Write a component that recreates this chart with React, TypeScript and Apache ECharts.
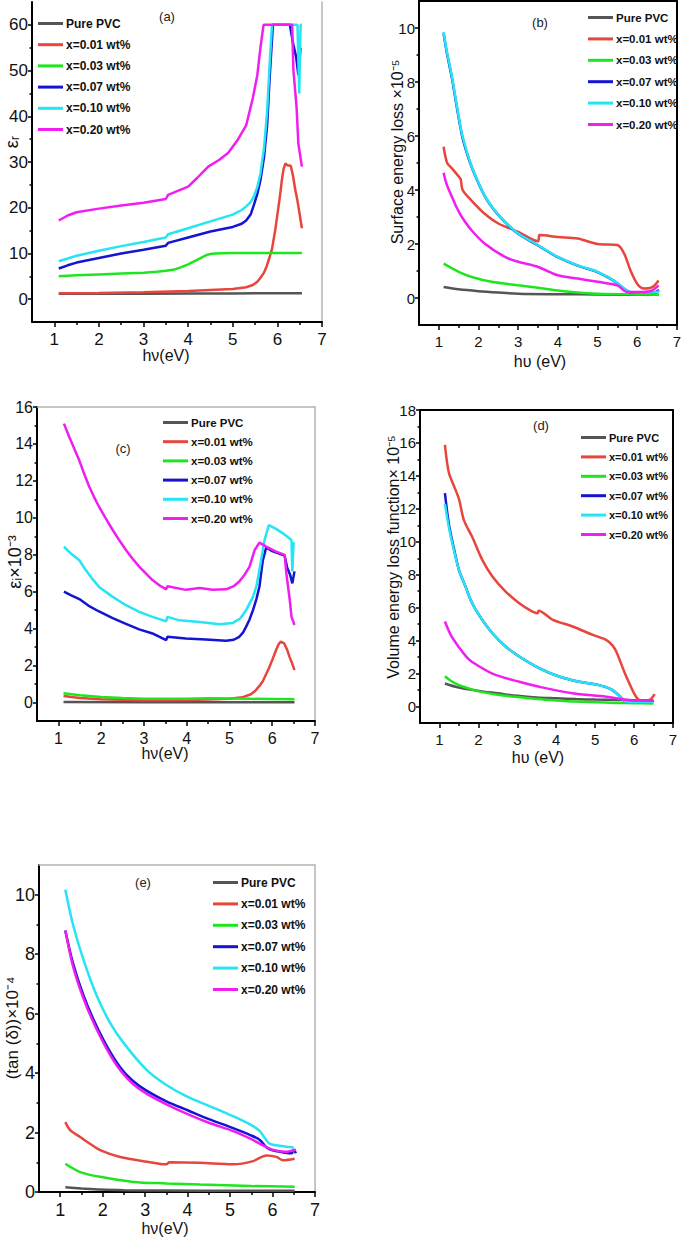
import React, { useEffect, useRef } from "react";
import * as echarts from "echarts";

// ---------- series names & colors ----------
const seriesNames = ["Pure PVC", "x=0.01 wt%", "x=0.03 wt%", "x=0.07 wt%", "x=0.10 wt%", "x=0.20 wt%"];
const seriesColors = ["#555555", "#e8453c", "#1ee61e", "#1414d2", "#26e4f4", "#f01ef0"];

// ---------- x tick values ----------
const xTickLabels = [1, 2, 3, 4, 5, 6, 7];
const xMinorTicks = [1.5, 2.5, 3.5, 4.5, 5.5, 6.5];

// ---------- (a) dielectric constant eps_r ----------
const aPure = [[1.1, 1.2], [2, 1.2], [3, 1.2], [4, 1.25], [5, 1.25], [6, 1.3], [6.55, 1.3]];
const aX001 = [[1.1, 1.3], [2, 1.35], [3, 1.5], [4, 1.8], [4.5, 2.0], [5, 2.2], [5.3, 2.6], [5.45, 3.1], [5.55, 3.8], [5.63, 4.8], [5.7, 5.8], [5.76, 7.2], [5.82, 9.0], [5.88, 11], [5.95, 15], [6.0, 18.5], [6.05, 22], [6.1, 26], [6.14, 28.5], [6.18, 29.7], [6.22, 29.3], [6.3, 29.2], [6.35, 27], [6.4, 24], [6.45, 21.5], [6.5, 18.5], [6.55, 15.5]];
const aX003 = [[1.1, 5.0], [1.5, 5.2], [2, 5.4], [2.5, 5.6], [3, 5.8], [3.3, 6.0], [3.5, 6.2], [3.7, 6.5], [3.85, 7.0], [4.0, 7.6], [4.1, 8.1], [4.2, 8.6], [4.3, 9.1], [4.4, 9.6], [4.5, 9.9], [4.6, 10.0], [5, 10.1], [6.55, 10.1]];
const aX007 = [[1.1, 6.7], [1.3, 7.4], [1.5, 8.0], [2, 9.0], [2.5, 10], [3, 10.8], [3.5, 11.7], [3.55, 12.3], [4, 13.5], [4.5, 14.8], [5, 15.8], [5.2, 16.5], [5.3, 17.2], [5.4, 18.5], [5.47, 20.5], [5.55, 23], [5.62, 26], [5.7, 31], [5.77, 38], [5.83, 49], [5.9, 60], [6.28, 60], [6.35, 56], [6.42, 53], [6.47, 49], [6.52, 55]];
const aX010 = [[1.1, 8.3], [1.3, 8.9], [1.5, 9.5], [2, 10.6], [2.5, 11.6], [3, 12.5], [3.5, 13.5], [3.55, 14.2], [4, 15.5], [4.5, 17], [5, 18.5], [5.2, 19.5], [5.3, 20.3], [5.4, 21.2], [5.47, 22.4], [5.55, 24.5], [5.62, 27.5], [5.7, 33], [5.77, 41], [5.83, 52], [5.88, 60], [6.45, 60], [6.49, 45], [6.52, 60], [6.55, 60]];
const aX020 = [[1.1, 17.2], [1.3, 18.3], [1.5, 19], [2, 19.8], [2.5, 20.5], [3, 21.1], [3.5, 21.9], [3.55, 22.8], [4, 24.6], [4.2, 26.5], [4.45, 29], [4.7, 30.5], [4.9, 32], [5.1, 34.7], [5.3, 38], [5.45, 44], [5.55, 49], [5.62, 55], [5.69, 60], [6.33, 60], [6.36, 50], [6.43, 42], [6.47, 34], [6.55, 29]];

// ---------- (b) surface energy loss x1e-5 ----------
const bPure = [[1.12, 0.41], [1.5, 0.32], [2, 0.25], [2.5, 0.2], [3, 0.16], [4, 0.14], [5, 0.13], [6, 0.12], [6.55, 0.12]];
const bX001 = [[1.12, 5.6], [1.21, 5.0], [1.33, 4.8], [1.5, 4.5], [1.55, 4.4], [1.6, 4.0], [1.83, 3.6], [2.17, 3.1], [2.5, 2.76], [3.0, 2.45], [3.5, 2.1], [3.54, 2.33], [4.0, 2.26], [4.5, 2.2], [5.0, 2.0], [5.5, 1.96], [5.67, 1.65], [5.83, 1.03], [6.0, 0.53], [6.17, 0.35], [6.38, 0.4], [6.54, 0.65]];
const bX003 = [[1.12, 1.27], [1.5, 0.97], [1.83, 0.78], [2.33, 0.6], [3.0, 0.47], [3.5, 0.38], [4.0, 0.28], [4.5, 0.2], [5.0, 0.16], [6.0, 0.13], [6.55, 0.12]];
const bX007 = [[1.12, 9.8], [1.2, 9.1], [1.33, 8.15], [1.45, 7.1], [1.58, 6.05], [1.7, 5.4], [1.83, 4.84], [2.0, 4.25], [2.17, 3.74], [2.4, 3.25], [2.67, 2.81], [3.0, 2.38], [3.5, 1.95], [4.0, 1.51], [4.5, 1.2], [5.0, 0.96], [5.33, 0.71], [5.5, 0.55], [5.67, 0.34], [5.83, 0.21], [6.42, 0.2], [6.55, 0.3]];
const bX010 = [[1.12, 9.85], [1.2, 9.15], [1.33, 8.2], [1.45, 7.15], [1.58, 6.1], [1.7, 5.45], [1.83, 4.86], [2.0, 4.27], [2.17, 3.75], [2.4, 3.26], [2.67, 2.82], [3.0, 2.39], [3.5, 1.96], [4.0, 1.52], [4.5, 1.21], [5.0, 0.97], [5.33, 0.72], [5.5, 0.56], [5.67, 0.35], [5.83, 0.22], [6.42, 0.2], [6.55, 0.25]];
const bX020 = [[1.12, 4.64], [1.2, 4.2], [1.33, 3.75], [1.45, 3.35], [1.58, 3.0], [1.83, 2.5], [2.17, 2.0], [2.67, 1.52], [3.0, 1.34], [3.5, 1.15], [4.0, 0.84], [4.5, 0.72], [5.0, 0.6], [5.5, 0.47], [5.75, 0.22], [6.0, 0.22], [6.33, 0.25], [6.54, 0.47]];

// ---------- (c) eps_i x1e-3 ----------
const cPure = [[1.12, 0.03], [3, 0.02], [5, 0.02], [6.52, 0.02]];
const cX001 = [[1.12, 0.35], [1.5, 0.25], [2, 0.18], [2.5, 0.15], [3, 0.13], [3.5, 0.12], [4, 0.14], [4.5, 0.17], [5, 0.2], [5.3, 0.28], [5.5, 0.45], [5.6, 0.62], [5.7, 0.9], [5.78, 1.15], [5.85, 1.5], [5.93, 1.9], [6.0, 2.3], [6.05, 2.6], [6.1, 2.9], [6.15, 3.15], [6.2, 3.3], [6.28, 3.2], [6.35, 2.85], [6.4, 2.5], [6.46, 2.15], [6.52, 1.75]];
const cX003 = [[1.12, 0.5], [1.5, 0.4], [2, 0.3], [2.5, 0.24], [3, 0.2], [3.5, 0.2], [4, 0.21], [4.5, 0.23], [5, 0.22], [5.5, 0.2], [6, 0.19], [6.52, 0.18]];
const cX007 = [[1.13, 6.0], [1.3, 5.8], [1.49, 5.6], [1.7, 5.25], [1.95, 4.93], [2.27, 4.57], [2.58, 4.26], [2.89, 3.96], [3.2, 3.74], [3.52, 3.38], [3.55, 3.56], [3.98, 3.47], [4.45, 3.41], [4.92, 3.34], [5.1, 3.4], [5.23, 3.56], [5.32, 3.8], [5.39, 4.11], [5.47, 4.5], [5.55, 5.0], [5.63, 5.6], [5.7, 6.27], [5.78, 7.7], [5.86, 8.4], [6.0, 8.2], [6.29, 7.95], [6.35, 7.3], [6.42, 6.9], [6.47, 6.45], [6.52, 7.1]];
const cX010 = [[1.13, 8.44], [1.3, 8.05], [1.49, 7.7], [1.64, 7.17], [1.8, 6.68], [1.95, 6.26], [2.27, 5.72], [2.58, 5.27], [2.89, 4.91], [3.2, 4.64], [3.52, 4.4], [3.55, 4.64], [3.83, 4.45], [4.3, 4.36], [4.77, 4.24], [5.08, 4.31], [5.25, 4.55], [5.39, 5.0], [5.55, 5.72], [5.63, 6.3], [5.7, 7.17], [5.82, 8.8], [5.92, 9.6], [6.09, 9.4], [6.25, 9.16], [6.45, 8.8], [6.47, 7.1], [6.5, 8.7]];
const cX020 = [[1.13, 15.1], [1.25, 14.4], [1.37, 13.75], [1.49, 13.1], [1.6, 12.4], [1.72, 11.7], [1.83, 11.15], [1.95, 10.6], [2.1, 10.0], [2.27, 9.34], [2.42, 8.8], [2.58, 8.26], [2.73, 7.8], [2.89, 7.36], [3.05, 6.98], [3.2, 6.63], [3.36, 6.35], [3.52, 6.13], [3.55, 6.3], [3.98, 6.1], [4.3, 6.2], [4.61, 6.1], [4.92, 6.13], [5.1, 6.3], [5.23, 6.55], [5.35, 6.9], [5.47, 7.36], [5.59, 8.26], [5.7, 8.66], [5.86, 8.44], [6.09, 8.17], [6.29, 7.99], [6.33, 7.0], [6.41, 5.55], [6.45, 4.65], [6.52, 4.2]];

// ---------- (d) volume energy loss x1e-5 ----------
const dPure = [[1.14, 1.4], [1.5, 1.15], [2, 0.95], [2.5, 0.8], [3, 0.65], [3.5, 0.55], [4, 0.5], [4.5, 0.45], [5, 0.42], [5.5, 0.4], [6, 0.38], [6.5, 0.37]];
const dX001 = [[1.14, 15.88], [1.24, 14.2], [1.37, 13.4], [1.5, 12.6], [1.63, 11.3], [1.84, 10.3], [2.1, 8.9], [2.36, 7.9], [2.7, 6.98], [3.05, 6.27], [3.39, 5.76], [3.52, 5.66], [3.55, 5.82], [3.9, 5.28], [4.42, 4.86], [4.94, 4.35], [5.28, 4.05], [5.45, 3.7], [5.55, 3.3], [5.65, 2.7], [5.75, 2.1], [5.88, 1.4], [6.0, 0.8], [6.1, 0.45], [6.23, 0.35], [6.4, 0.4], [6.53, 0.75]];
const dX003 = [[1.14, 1.84], [1.3, 1.55], [1.5, 1.3], [1.75, 1.1], [2, 0.92], [2.5, 0.72], [3, 0.58], [3.5, 0.46], [4, 0.37], [4.5, 0.3], [5, 0.26], [5.5, 0.22], [6, 0.2], [6.5, 0.18]];
const dX007 = [[1.14, 12.95], [1.24, 11.1], [1.37, 9.6], [1.5, 8.3], [1.67, 7.28], [1.84, 6.27], [2.1, 5.26], [2.36, 4.45], [2.7, 3.64], [3.05, 3.04], [3.56, 2.33], [4.07, 1.82], [4.59, 1.5], [5.1, 1.3], [5.4, 1.05], [5.6, 0.7], [5.75, 0.35], [5.85, 0.25], [6.4, 0.25], [6.5, 0.35]];
const dX010 = [[1.14, 12.3], [1.24, 10.9], [1.37, 9.5], [1.5, 8.3], [1.67, 7.28], [1.84, 6.27], [2.1, 5.26], [2.36, 4.45], [2.7, 3.64], [3.05, 3.04], [3.56, 2.33], [4.07, 1.82], [4.59, 1.5], [5.1, 1.3], [5.4, 1.05], [5.6, 0.7], [5.75, 0.35], [5.85, 0.25], [6.4, 0.25], [6.5, 0.3]];
const dX020 = [[1.14, 5.16], [1.3, 4.3], [1.5, 3.6], [1.7, 3.0], [1.84, 2.7], [2.36, 2.0], [3.05, 1.5], [3.56, 1.2], [4.42, 0.8], [5.28, 0.6], [5.97, 0.36], [6.5, 0.35]];

// ---------- (e) tan(delta) x1e-4 ----------
const ePure = [[1.12, 0.16], [1.5, 0.12], [1.94, 0.08], [2.5, 0.06], [3.5, 0.05], [5, 0.04], [6.52, 0.04]];
const eX001 = [[1.12, 2.35], [1.24, 2.07], [1.47, 1.85], [1.63, 1.69], [1.94, 1.41], [2.41, 1.18], [3.04, 1.02], [3.5, 0.93], [3.57, 1.0], [4.29, 0.98], [5.07, 0.93], [5.54, 1.04], [5.86, 1.23], [6.09, 1.18], [6.25, 1.07], [6.52, 1.12]];
const eX003 = [[1.12, 0.95], [1.47, 0.67], [1.94, 0.51], [2.72, 0.34], [3.5, 0.29], [4.29, 0.25], [5.5, 0.2], [6.52, 0.18]];
const eX007 = [[1.12, 8.8], [1.3, 7.7], [1.55, 6.6], [1.8, 5.75], [2.1, 4.9], [2.41, 4.2], [2.7, 3.75], [3.04, 3.4], [3.5, 3.05], [4.0, 2.75], [4.5, 2.45], [5.07, 2.15], [5.5, 1.9], [5.7, 1.75], [5.86, 1.5], [6.0, 1.4], [6.3, 1.32], [6.45, 1.3], [6.5, 1.42], [6.55, 1.3]];
const eX010 = [[1.12, 10.17], [1.3, 9.0], [1.55, 7.8], [1.86, 6.6], [2.17, 5.7], [2.5, 5.0], [3.04, 4.1], [3.5, 3.6], [4.0, 3.2], [4.5, 2.9], [5.07, 2.55], [5.5, 2.25], [5.7, 2.05], [5.8, 1.85], [5.93, 1.63], [6.2, 1.55], [6.5, 1.5]];
const eX020 = [[1.12, 8.8], [1.3, 7.6], [1.55, 6.5], [1.8, 5.65], [2.1, 4.8], [2.41, 4.1], [2.7, 3.65], [3.04, 3.3], [3.5, 2.95], [4.0, 2.62], [4.5, 2.33], [5.07, 2.05], [5.5, 1.78], [5.8, 1.55], [6.0, 1.42], [6.3, 1.35], [6.55, 1.42]];

// ---------- y tick values ----------
const aYTicks = [0, 10, 20, 30, 40, 50, 60];
const aYMinor = [5, 15, 25, 35, 45, 55];
const bYTicks = [0, 2, 4, 6, 8, 10];
const bYMinor = [1, 3, 5, 7, 9];
const cYTicks = [0, 2, 4, 6, 8, 10, 12, 14, 16];
const cYMinor = [1, 3, 5, 7, 9, 11, 13, 15];
const dYTicks = [0, 2, 4, 6, 8, 10, 12, 14, 16, 18];
const dYMinor = [1, 3, 5, 7, 9, 11, 13, 15, 17];
const eYTicks = [0, 2, 4, 6, 8, 10];
const eYMinor = [1, 3, 5, 7, 9];

const FONT = "'Liberation Sans', Arial, sans-serif";
const GRAYB = "#b4b4b4";

const panels = [
  {
    data: [aPure, aX001, aX003, aX007, aX010, aX020], smooth: 0,
    grid: { left: 32, top: 2, width: 290, height: 320 },
    yMin: -5, yMax: 65, yTicks: aYTicks, yMinor: aYMinor, labelSize: 17,
    frameTop: null, frameRight: GRAYB,
    legend: { left: 38, top: 16, gap: 6.2, size: 12 },
    tag: { text: "(a)", x: 167, y: 16 },
    xName: { text: "hν(eV)", x: 166, y: 355 },
    yName: { text: "εᵣ", x: 12, y: 142, size: 18 },
  },
  {
    data: [bPure, bX001, bX003, bX007, bX010, bX020], smooth: 0.3,
    grid: { left: 419, top: 1, width: 261, height: 324 },
    yMin: -1, yMax: 11, yTicks: bYTicks, yMinor: bYMinor, labelSize: 15,
    frameTop: "#000", frameRight: "#000",
    legend: { left: 588, top: 10, gap: 6.4, size: 11.5 },
    tag: { text: "(b)", x: 540, y: 22 },
    xName: { text: "hυ (eV)", x: 540, y: 361 },
    yName: { text: "Surface energy loss ×10⁻⁵", x: 397, y: 152, size: 16 },
  },
  {
    data: [cPure, cX001, cX003, cX007, cX010, cX020], smooth: 0,
    grid: { left: 37, top: 407, width: 278, height: 314 },
    yMin: -1, yMax: 16, yTicks: cYTicks, yMinor: cYMinor, labelSize: 16,
    frameTop: GRAYB, frameRight: GRAYB,
    legend: { left: 163, top: 415, gap: 4.2, size: 11.5 },
    tag: { text: "(c)", x: 123, y: 448 },
    xName: { text: "hν(eV)", x: 165, y: 753 },
    yName: { text: "εᵢ×10⁻³", x: 15, y: 562, size: 18 },
  },
  {
    data: [dPure, dX001, dX003, dX007, dX010, dX020], smooth: 0.3,
    grid: { left: 420, top: 410, width: 253, height: 313 },
    yMin: -1, yMax: 18, yTicks: dYTicks, yMinor: dYMinor, labelSize: 15,
    frameTop: "#000", frameRight: "#000",
    legend: { left: 581, top: 430, gap: 4.4, size: 11 },
    tag: { text: "(d)", x: 541, y: 425 },
    xName: { text: "hυ (eV)", x: 538, y: 757 },
    yName: { text: "Volume energy loss function× 10⁻⁵", x: 393, y: 557, size: 16 },
  },
  {
    data: [ePure, eX001, eX003, eX007, eX010, eX020], smooth: 0.3,
    grid: { left: 39, top: 865, width: 276, height: 327 },
    yMin: 0, yMax: 11, yTicks: eYTicks, yMinor: eYMinor, labelSize: 18,
    frameTop: GRAYB, frameRight: GRAYB,
    legend: { left: 213, top: 875, gap: 6.4, size: 12 },
    tag: { text: "(e)", x: 143, y: 882 },
    xName: { text: "hν(eV)", x: 165, y: 1228 },
    yName: { text: "(tan (δ))×10⁻⁴", x: 12, y: 1028, size: 17 },
  },
];

function buildOption() {
  const grid: any[] = [];
  const xAxis: any[] = [];
  const yAxis: any[] = [];
  const series: any[] = [];
  const legend: any[] = [];
  const graphic: any[] = [];

  const hidden = { show: false };

  panels.forEach((p, gi) => {
    grid.push({ ...p.grid, containLabel: false, show: false });

    const xMain = xAxis.length;
    xAxis.push({
      type: "value", gridIndex: gi, position: "bottom", min: 0.5, max: 7,
      axisLine: { show: true, onZero: false, lineStyle: { color: "#000", width: 2 } },
      axisTick: { show: true, inside: false, length: 5, customValues: xTickLabels, lineStyle: { color: "#000", width: 1.5 } },
      axisLabel: { show: true, customValues: xTickLabels, margin: 9, fontSize: p.labelSize, fontFamily: FONT, color: "#111" },
      splitLine: hidden,
    });
    xAxis.push({
      type: "value", gridIndex: gi, position: "bottom", min: 0.5, max: 7,
      axisLine: { show: false, onZero: false },
      axisTick: { show: true, inside: false, length: 3, customValues: xMinorTicks, lineStyle: { color: "#000", width: 1.5 } },
      axisLabel: hidden, splitLine: hidden,
    });
    if (p.frameTop) {
      xAxis.push({
        type: "value", gridIndex: gi, position: "top", min: 0.5, max: 7,
        axisLine: { show: true, onZero: false, lineStyle: { color: p.frameTop, width: p.frameTop === "#000" ? 2 : 1.5 } },
        axisTick: hidden, axisLabel: hidden, splitLine: hidden,
      });
    }

    const yMain = yAxis.length;
    yAxis.push({
      type: "value", gridIndex: gi, position: "left", min: p.yMin, max: p.yMax,
      axisLine: { show: true, onZero: false, lineStyle: { color: "#000", width: 2 } },
      axisTick: { show: true, inside: false, length: 4, customValues: p.yTicks, lineStyle: { color: "#000", width: 1.5 } },
      axisLabel: { show: true, customValues: p.yTicks, margin: 4, fontSize: p.labelSize, fontFamily: FONT, color: "#111" },
      splitLine: hidden,
    });
    yAxis.push({
      type: "value", gridIndex: gi, position: "left", min: p.yMin, max: p.yMax,
      axisLine: { show: false, onZero: false },
      axisTick: { show: true, inside: false, length: 2.5, customValues: p.yMinor, lineStyle: { color: "#000", width: 1.5 } },
      axisLabel: hidden, splitLine: hidden,
    });
    if (p.frameRight) {
      yAxis.push({
        type: "value", gridIndex: gi, position: "right", min: p.yMin, max: p.yMax,
        axisLine: { show: true, onZero: false, lineStyle: { color: p.frameRight, width: p.frameRight === "#000" ? 2 : 1.5 } },
        axisTick: hidden, axisLabel: hidden, splitLine: hidden,
      });
    }

    p.data.forEach((d, si) => {
      series.push({
        type: "line",
        name: seriesNames[si],
        xAxisIndex: xMain,
        yAxisIndex: yMain,
        data: d,
        showSymbol: false,
        symbol: "none",
        smooth: p.smooth,
        color: seriesColors[si],
        lineStyle: { color: seriesColors[si], width: 2.5 },
        itemStyle: { color: seriesColors[si] },
        z: 2 + si,
      });
    });

    legend.push({
      orient: "vertical",
      left: p.legend.left,
      top: p.legend.top,
      itemWidth: 25,
      itemHeight: 3,
      itemGap: p.legend.gap,
      icon: "rect",
      selectedMode: false,
      padding: 0,
      data: seriesNames,
      textStyle: { fontSize: p.legend.size, fontWeight: "bold", fontFamily: FONT, color: "#111", lineHeight: 15, padding: [0, 0, 0, -2] },
    });

    graphic.push({
      type: "text", x: p.tag.x, y: p.tag.y,
      style: { text: p.tag.text, fontSize: 13, fontFamily: FONT, fill: "#222", textAlign: "center", textVerticalAlign: "middle", align: "center", verticalAlign: "middle" },
    });
    graphic.push({
      type: "text", x: p.xName.x, y: p.xName.y,
      style: { text: p.xName.text, fontSize: 16, fontFamily: FONT, fill: "#111", textAlign: "center", textVerticalAlign: "middle", align: "center", verticalAlign: "middle" },
    });
    graphic.push({
      type: "text", x: p.yName.x, y: p.yName.y, rotation: Math.PI / 2,
      style: { text: p.yName.text, fontSize: p.yName.size, fontFamily: FONT, fill: "#111", textAlign: "center", textVerticalAlign: "middle", align: "center", verticalAlign: "middle" },
    });
  });

  return {
    animation: false,
    backgroundColor: "#ffffff",
    grid, xAxis, yAxis, series, legend, graphic,
  };
}

export default function App() {
  const ref = useRef<HTMLDivElement>(null);
  useEffect(() => {
    if (!ref.current) return;
    const chart = echarts.init(ref.current, null, { renderer: "svg" });
    chart.setOption(buildOption() as any);
    return () => chart.dispose();
  }, []);
  return <div ref={ref} style={{ position: "absolute", left: 0, top: 0, width: 684, height: 1240, background: "#fff" }} />;
}
